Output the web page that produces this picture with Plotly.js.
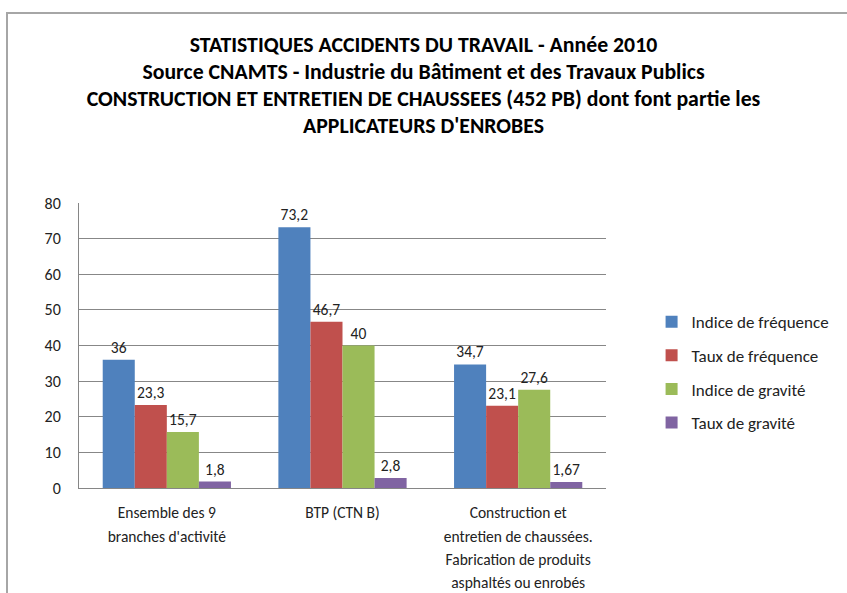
<!DOCTYPE html>
<html>
<head>
<meta charset="utf-8">
<script src="https://cdn.plot.ly/plotly-3.0.1.min.js"></script>
<style>
  html, body { margin: 0; padding: 0; background: #fff; }
  #wrap { position: relative; width: 847px; height: 593px; }
  #frame { position: absolute; left: 6px; top: 12px; width: 841px; height: 581px;
           border-left: 2px solid #a6a6a6; border-top: 2px solid #a6a6a6; pointer-events: none; }
  #chart { position: absolute; left: 0; top: 0; width: 847px; height: 593px; }
</style>
</head>
<body>
<div id="wrap">
  <div id="chart"></div>
  <div id="frame"></div>
</div>
<script>
const titleLines = [
  "STATISTIQUES ACCIDENTS DU TRAVAIL - Année 2010",
  "Source CNAMTS - Industrie du Bâtiment et des Travaux Publics",
  "CONSTRUCTION ET ENTRETIEN DE CHAUSSEES (452 PB) dont font partie les",
  "APPLICATEURS D'ENROBES"
];
const categories = [
  "Ensemble des 9<br>branches d'activité",
  "BTP (CTN B)",
  "Construction et<br>entretien de chaussées.<br>Fabrication de produits<br>asphaltés ou enrobés"
];
const seriesNames = ["Indice de fréquence", "Taux de fréquence", "Indice de gravité", "Taux de gravité"];
const indiceFrequence = [36, 73.2, 34.7];
const tauxFrequence = [23.3, 46.7, 23.1];
const indiceGravite = [15.7, 40, 27.6];
const tauxGravite = [1.8, 2.8, 1.67];
const seriesValues = [indiceFrequence, tauxFrequence, indiceGravite, tauxGravite];
const colors = ["#4F81BD", "#C0504D", "#9BBB59", "#8064A2"];
const yTicks = [0, 10, 20, 30, 40, 50, 60, 70, 80];

const FONT = "Carlito, Lato, 'Open Sans', sans-serif";
const xKeys = ["c0", "c1", "c2"];

const traces = seriesValues.map((vals, i) => ({
  type: "bar",
  name: seriesNames[i],
  x: xKeys,
  y: vals,
  marker: { color: colors[i], line: { width: 0 } },
  text: vals.map(v => String(v).replace(".", ",")),
  textposition: "outside",
  textfont: { family: FONT, size: 15.5, color: "#222" },
  cliponaxis: false,
  legendgroup: "g" + i,
  hoverinfo: "skip"
}));

const layout = {
  width: 847,
  height: 593,
  margin: { l: 79, r: 239, t: 203, b: 105 },
  paper_bgcolor: "#ffffff",
  plot_bgcolor: "#ffffff",
  font: { family: FONT, size: 14, color: "#222" },
  title: {
    text: titleLines.map(t => '<span style="font-size:21.8px">' + t + '</span>').join("<br>"),
    font: { family: FONT, size: 20.8, color: "#000", weight: "bold" },
    x: 0.5, xref: "container", xanchor: "center",
    y: 0.912, yref: "container", yanchor: "top"
  },
  barmode: "group",
  bargap: 0.27,
  bargroupgap: 0,
  showlegend: true,
  legend: {
    x: 1.0865, xanchor: "left", y: 0.645, yanchor: "top",
    font: { family: FONT, size: 17, color: "#222" },
    traceorder: "grouped",
    tracegroupgap: 8.5,
    bgcolor: "rgba(0,0,0,0)"
  },
  xaxis: {
    type: "category",
    tickvals: xKeys,
    ticktext: categories.map(c => '<span style="font-size:15.5px">' + c + '</span>'),
    tickfont: { family: FONT, size: 17.8, color: "#222" },
    showgrid: false,
    showline: true, linecolor: "#868686", linewidth: 1,
    ticks: "", zeroline: false, ticklabelstandoff: 8
  },
  yaxis: {
    range: [0, 80],
    tickvals: yTicks,
    ticktext: yTicks.map(String),
    tickfont: { family: FONT, size: 16, color: "#222" },
    showgrid: true, gridcolor: "#878787", gridwidth: 1,
    showline: true, linecolor: "#868686", linewidth: 1,
    zeroline: true, zerolinecolor: "#868686", zerolinewidth: 1,
    ticks: "", ticklabelstandoff: 14
  }
};

Plotly.newPlot("chart", traces, layout, { displayModeBar: false, staticPlot: true });
</script>
</body>
</html>
